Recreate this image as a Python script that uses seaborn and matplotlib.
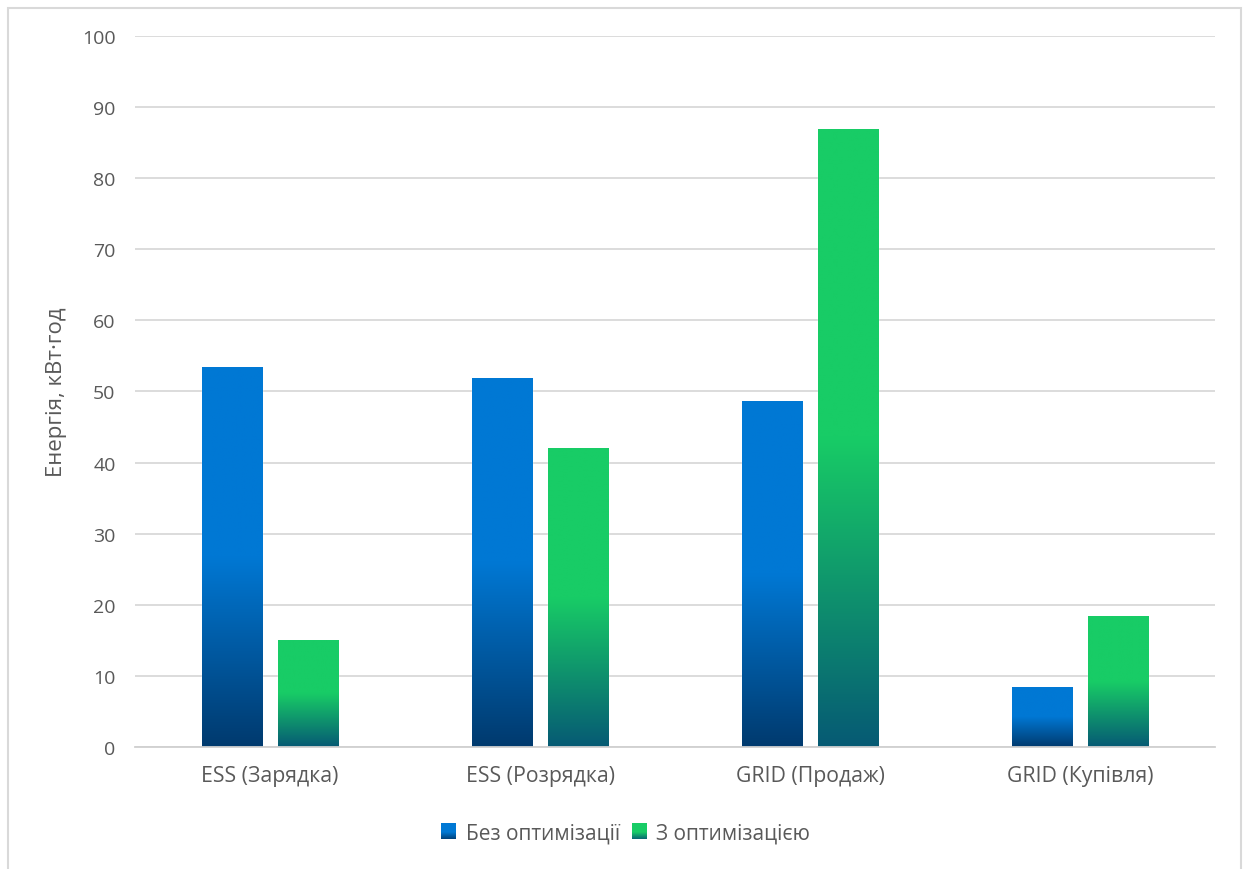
import numpy as np
import pandas as pd
import matplotlib
matplotlib.use("Agg")
import matplotlib.pyplot as plt
from matplotlib.colors import LinearSegmentedColormap
from matplotlib.patches import Rectangle
from matplotlib.legend_handler import HandlerBase
import seaborn as sns

categories = ["ESS (Зарядка)", "ESS (Розрядка)", "GRID (Продаж)", "GRID (Купівля)"]
series_names = ["Без оптимізації", "З оптимізацією"]
no_opt = [53.4, 51.9, 48.6, 8.5]
with_opt = [15.1, 42.0, 86.9, 18.4]
y_ticks = [0, 10, 20, 30, 40, 50, 60, 70, 80, 90, 100]

top_colors = {"Без оптимізації": "#0078D4", "З оптимізацією": "#18CC66"}
bottom_colors = {"Без оптимізації": "#003A6E", "З оптимізацією": "#065A74"}

df = pd.DataFrame({
    "Категорія": categories * 2,
    "Серія": [series_names[0]] * 4 + [series_names[1]] * 4,
    "Енергія": no_opt + with_opt,
})

sns.set_theme(style="white")
plt.rcParams["font.family"] = ["Open Sans", "DejaVu Sans"]

fig = plt.figure(figsize=(12.5, 8.7), dpi=100)
ax = fig.add_axes([0.108, 0.14, 0.864, 0.818])

sns.barplot(data=df, x="Категорія", y="Енергія", hue="Серія",
            palette=top_colors, width=0.57, gap=0.22, ax=ax,
            errorbar=None, legend=False, saturation=1)


def gradient_cmap(series):
    # solid colour in the upper half, fading to a darker shade toward the base
    return LinearSegmentedColormap.from_list(
        series, [(0.0, bottom_colors[series]), (0.5, top_colors[series]),
                 (1.0, top_colors[series])])


grad = np.linspace(0, 1, 256).reshape(-1, 1)
for container, series in zip(ax.containers, series_names):
    cmap = gradient_cmap(series)
    for bar in container:
        x0, y0 = bar.get_x(), bar.get_y()
        w, h = bar.get_width(), bar.get_height()
        img = ax.imshow(grad, cmap=cmap, aspect="auto", origin="lower",
                        extent=[x0, x0 + w, y0, y0 + h], zorder=2.5,
                        interpolation="bilinear")
        img.set_clip_path(bar)

ax.set_xlim(-0.5, 3.5)
ax.set_ylim(0, 100)
ax.set_yticks(y_ticks)
ax.yaxis.grid(True, color="#D9D9D9", linewidth=1.3)
ax.set_axisbelow(True)
for side in ["top", "right", "left"]:
    ax.spines[side].set_visible(False)
ax.spines["bottom"].set_color("#D0D0D0")
ax.spines["bottom"].set_linewidth(1.3)
ax.tick_params(axis="both", length=0, colors="#595959")
ax.tick_params(axis="y", pad=14, labelsize=14)
ax.tick_params(axis="x", pad=13, labelsize=15.3)
ax.set_xlabel("")
ax.set_ylabel("Енергія, кВт·год", fontsize=16, color="#595959", labelpad=11)


class GradientSquare(HandlerBase):
    def create_artists(self, legend, orig_handle, xdescent, ydescent,
                       width, height, fontsize, trans):
        series = orig_handle.get_label()
        cmap = gradient_cmap(series)
        size = height * 1.05
        x = width - size
        y0 = -ydescent + (height - size) / 2
        artists = []
        n = 14
        for i in range(n):
            frac = (i + 0.5) / n
            r = Rectangle((x, y0 + i * size / n), size, size / n + 0.3,
                          facecolor=cmap(min(1.0, frac * 0.9 + 0.05) if frac < 0.6 else 1.0),
                          edgecolor="none", transform=trans)
            artists.append(r)
        return artists


handles = [Rectangle((0, 0), 1, 1, label=s) for s in series_names]
fig.legend(handles=handles, labels=series_names, loc="center",
           bbox_to_anchor=(0.5, 0.041), ncol=2, frameon=False,
           fontsize=15, labelcolor="#595959", handler_map={Rectangle: GradientSquare()},
           handlelength=0.8, handletextpad=0.45, columnspacing=0.5)

fig.patches.append(Rectangle((0.0064, -0.01), 0.986, 1.0, transform=fig.transFigure,
                             fill=False, edgecolor="#D9D9D9", linewidth=1.5))

fig.savefig("out.png", dpi=100, facecolor="white")
